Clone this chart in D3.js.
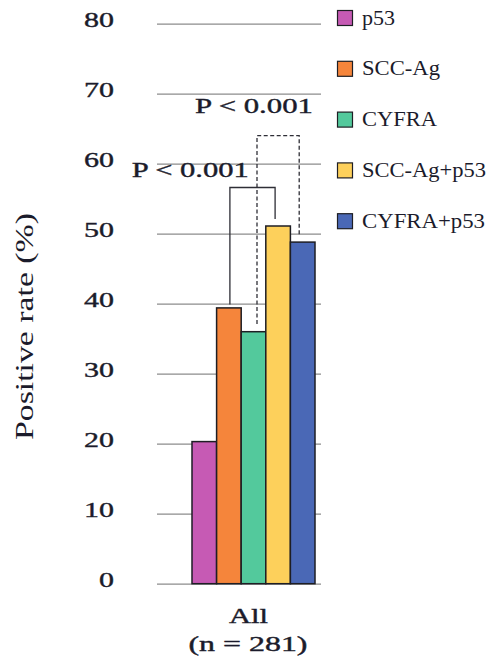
<!DOCTYPE html>
<html>
<head>
<meta charset="utf-8">
<script src="https://cdn.jsdelivr.net/npm/d3@7"></script>
<style>
  html, body { margin: 0; padding: 0; background: #fff; }
  svg { display: block; }
  text { font-family: "Liberation Serif", "Times New Roman", serif; fill: #1b1b2b; }
  .med { stroke: #1b1b2b; stroke-width: 0.4px; }
</style>
</head>
<body>
<svg id="chart" width="490" height="659"></svg>
<script>
// ---- data ----
const groups = ["All"];
const groupSub = ["(n = 281)"];
const seriesNames = ["p53", "SCC-Ag", "CYFRA", "SCC-Ag+p53", "CYFRA+p53"];
const seriesValues = [20.3, 39.4, 36.0, 51.1, 48.8];
const seriesColors = ["#C65AB4", "#F5853B", "#53C99C", "#FDD05B", "#4A68B6"];
const yTicks = [0, 10, 20, 30, 40, 50, 60, 70, 80];
const yTitle = "Positive rate (%)";
// significance brackets: from series, to series, top level, left end, right end, dashed
const bracketFrom = ["SCC-Ag", "CYFRA"];
const bracketTo = ["SCC-Ag+p53", "CYFRA+p53"];
const bracketTop = [56.6, 64.0];
const bracketLeftEnd = [39.9, 37.1];
const bracketRightEnd = [52.1, 49.7];
const bracketDashed = [false, true];
const bracketLabels = ["P < 0.001", "P < 0.001"];

// ---- layout ----
const svg = d3.select("#chart");
const y = d3.scaleLinear().domain([0, 80]).range([583.7, 23.7]);
const xGroup = d3.scaleBand().domain(groups).range([192, 315]).padding(0);
const x = d3.scaleBand().domain(seriesNames).range([0, xGroup.bandwidth()]).padding(0);
const gridLeft = 157, gridRight = 321;

// gridlines + tick labels
const yAxis = d3.axisLeft(y).tickValues(yTicks).tickSize(-(gridRight - gridLeft)).tickPadding(43).tickFormat(d3.format("d"));
const gy = svg.append("g").attr("transform", `translate(${gridLeft},0)`).call(yAxis);
gy.select(".domain").remove();
gy.selectAll(".tick line").attr("stroke", "#8c8c8c").attr("stroke-width", 1.2);
gy.selectAll(".tick text")
  .attr("class", "med")
  .attr("y", -4)
  .attr("fill", "#1b1b2b")
  .style("font-family", '"Liberation Serif", serif')
  .style("font-size", "22px")
  .attr("textLength", d => String(d).length * 15)
  .attr("lengthAdjust", "spacingAndGlyphs");

// bars
const g = svg.append("g").attr("transform", `translate(${xGroup("All")},0)`);
g.selectAll("rect.bar")
  .data(seriesNames.map((n, i) => ({ name: n, value: seriesValues[i], color: seriesColors[i] })))
  .enter().append("rect")
  .attr("class", "bar")
  .attr("x", d => x(d.name))
  .attr("y", d => y(d.value))
  .attr("width", x.bandwidth())
  .attr("height", d => y(0) - y(d.value))
  .attr("fill", d => d.color)
  .attr("stroke", "#1e1e24")
  .attr("stroke-width", 1.5);

// brackets
const cx = n => xGroup("All") + x(n) + x.bandwidth() / 2;
bracketFrom.forEach((f, i) => {
  const x1 = cx(f) + (bracketDashed[i] ? 3.5 : 1);
  const x2 = cx(bracketTo[i]) - (bracketDashed[i] ? 3.5 : 3);
  const path = d3.path();
  path.moveTo(x1, y(bracketLeftEnd[i]));
  path.lineTo(x1, y(bracketTop[i]));
  path.lineTo(x2, y(bracketTop[i]));
  path.lineTo(x2, y(bracketRightEnd[i]));
  svg.append("path")
    .attr("d", path.toString())
    .attr("fill", "none")
    .attr("stroke", "#2e2e36")
    .attr("stroke-width", 1.3)
    .attr("stroke-dasharray", bracketDashed[i] ? "4,2.5" : null);
});
// P labels
const pLabelX = [131.7, 195];
const pLabelY = [177, 113];
const pLabelW = [117, 118];
bracketLabels.forEach((t, i) => {
  svg.append("text")
    .attr("class", "med")
    .attr("x", pLabelX[i]).attr("y", pLabelY[i])
    .attr("font-size", 22)
    .attr("textLength", pLabelW[i]).attr("lengthAdjust", "spacingAndGlyphs")
    .text(t);
});

// x labels
svg.append("text").attr("class", "med").attr("x", 248.5).attr("y", 623).attr("text-anchor", "middle")
  .attr("font-size", 21)
  .attr("textLength", 39).attr("lengthAdjust", "spacingAndGlyphs")
  .text(groups[0]);
svg.append("text").attr("class", "med").attr("x", 248).attr("y", 651).attr("text-anchor", "middle")
  .attr("font-size", 21)
  .attr("textLength", 119).attr("lengthAdjust", "spacingAndGlyphs")
  .text(groupSub[0]);

// y title
svg.append("text")
  .attr("transform", "translate(33,326.5) rotate(-90)")
  .attr("text-anchor", "middle")
  .attr("font-size", 25)
  .attr("textLength", 227).attr("lengthAdjust", "spacingAndGlyphs")
  .text(yTitle);

// legend
const legendW = [33, 78, 75, 124, 123];
const leg = svg.append("g");
seriesNames.forEach((n, i) => {
  const cy = 18 + i * 50.8;
  leg.append("rect")
    .attr("x", 337.5).attr("y", cy - 7.5).attr("width", 15).attr("height", 15)
    .attr("fill", seriesColors[i]).attr("stroke", "#1e1e24").attr("stroke-width", 1.2);
  leg.append("text")
    .attr("x", 362).attr("y", cy + 6.5)
    .attr("font-size", 21)
    .attr("textLength", legendW[i]).attr("lengthAdjust", "spacingAndGlyphs")
    .text(n);
});
</script>
</body>
</html>
